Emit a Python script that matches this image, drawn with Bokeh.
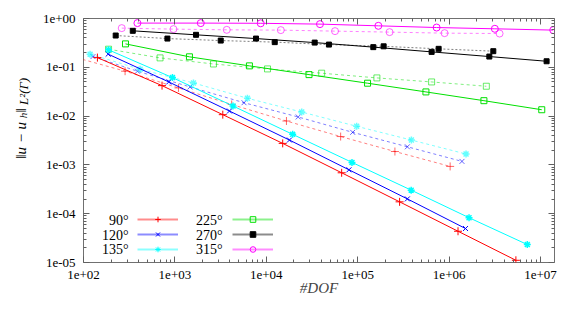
import math
from bokeh.plotting import figure
from bokeh.layouts import row
from bokeh.models import (Range1d, FixedTicker, LogAxis, CustomJSTickFormatter,
                          Label, Legend, LegendItem)
from bokeh.core.properties import value
from bokeh.embed import file_html
from bokeh.resources import INLINE

# ---------------- data ----------------
angles = ["90°", "120°", "135°", "225°", "270°", "315°"]
colors = ["#ff0000", "#0000ff", "#00ffff", "#00e000", "#000000", "#ff00ff"]
markers = ["cross", "x", "asterisk", "square", "square", "circle"]
marker_fill = [False, False, True, False, True, False]

dof_90_solid = [142, 723, 3340, 15100, 66700, 287000, 1250000, 5370000]
err_90_solid = [0.158, 0.0421, 0.0107, 0.00276, 0.000689, 0.000175, 0.0000437, 0.0000111]
dof_90_dash = [73, 285, 1094, 4180, 16600, 65000, 255000, 1025000]
err_90_dash = [0.169, 0.0832, 0.0378, 0.0173, 0.00793, 0.00381, 0.00188, 0.000931]

dof_120_solid = [186, 857, 3950, 17900, 80200, 349000, 1510000]
err_120_solid = [0.186, 0.0501, 0.0127, 0.00323, 0.000793, 0.000201, 0.0000497]
dof_120_dash = [127, 389, 1464, 5700, 22300, 88000, 349000, 1380000]
err_120_dash = [0.166, 0.0832, 0.0396, 0.0188, 0.00959, 0.00465, 0.00235, 0.00118]

dof_135_solid = [188, 940, 4320, 19400, 86500, 384000, 1650000, 7160000]
err_135_solid = [0.228, 0.0615, 0.0161, 0.00423, 0.001125, 0.000304, 0.0000828, 0.0000233]
dof_135_dash = [118, 416, 1595, 6210, 24400, 97300, 386000, 1530000]
err_135_dash = [0.186, 0.0914, 0.0478, 0.0232, 0.0121, 0.00618, 0.00323, 0.00167]

dof_225_solid = [288, 1442, 6530, 29300, 128000, 557000, 2400000, 10300000]
err_225_solid = [0.302, 0.164, 0.107, 0.0708, 0.0472, 0.0313, 0.0207, 0.0135]
dof_225_dash = [188, 688, 2640, 10300, 40300, 162000, 643000, 2550000]
err_225_dash = [0.235, 0.156, 0.117, 0.0927, 0.0757, 0.0606, 0.0501, 0.0409]

dof_270_solid = [346, 1702, 7710, 33800, 148000, 643000, 2750000, 11640000]
err_270_solid = [0.559, 0.463, 0.388, 0.321, 0.259, 0.207, 0.166, 0.133]
dof_270_dash = [225, 828, 3170, 12360, 48400, 192000, 767000, 3040000]
err_270_dash = [0.448, 0.388, 0.353, 0.328, 0.292, 0.269, 0.239, 0.214]

dof_315_solid = [389, 1918, 8680, 38600, 168000, 729000, 3160000, 13760000]
err_315_solid = [0.805, 0.805, 0.797, 0.767, 0.708, 0.653, 0.615, 0.578]
dof_315_dash = [262, 964, 3690, 14400, 56400, 223000, 891000, 3560000]
err_315_dash = [0.635, 0.606, 0.586, 0.578, 0.551, 0.526, 0.501, 0.492]

x_ticks = [1e2, 1e3, 1e4, 1e5, 1e6, 1e7]
y_ticks = [1e-5, 1e-4, 1e-3, 1e-2, 1e-1, 1e0]

solid_sets = [(dof_90_solid, err_90_solid), (dof_120_solid, err_120_solid),
              (dof_135_solid, err_135_solid), (dof_225_solid, err_225_solid),
              (dof_270_solid, err_270_solid), (dof_315_solid, err_315_solid)]
dash_sets = [(dof_90_dash, err_90_dash), (dof_120_dash, err_120_dash),
             (dof_135_dash, err_135_dash), (dof_225_dash, err_225_dash),
             (dof_270_dash, err_270_dash), (dof_315_dash, err_315_dash)]

H = 302
LAB_W = 38

# ---------------- main figure ----------------
XMAX = 1.42e7
p = figure(x_axis_type="log", y_axis_type="log",
           x_range=Range1d(100, XMAX), y_range=Range1d(1e-5, 1),
           frame_width=471, frame_height=244,
           min_border_left=83 - LAB_W, min_border_right=20, min_border_top=18,
           min_border_bottom=40,
           output_backend="svg", toolbar_location=None,
           background_fill_color="white", border_fill_color="white")
p.grid.visible = False
p.outline_line_color = "#707070"
p.outline_line_width = 1

def minor_for(ticks, hi):
    out = []
    for t in ticks:
        for m in range(2, 10):
            v = t * m
            if v <= hi:
                out.append(v)
    return out

fmt_code = """
const e = Math.round(Math.log10(tick));
const s = Math.abs(e).toString().padStart(2, "0");
return "1e" + (e < 0 ? "-" : "+") + s;
"""
blank_code = "return '';"

def style_axis(ax, ticks, minors, labels=True):
    ax.ticker = FixedTicker(ticks=ticks, minor_ticks=minors)
    ax.axis_line_color = None
    ax.major_tick_line_color = "#606060"
    ax.minor_tick_line_color = "#606060"
    ax.major_tick_in = 6
    ax.major_tick_out = 0
    ax.minor_tick_in = 3
    ax.minor_tick_out = 0
    if labels:
        ax.formatter = CustomJSTickFormatter(code=fmt_code)
        ax.major_label_text_font = "Liberation Serif"
        ax.major_label_text_font_size = "13px"
        ax.major_label_text_color = "#000000"
        ax.major_label_standoff = 8
    else:
        ax.formatter = CustomJSTickFormatter(code=blank_code)
        ax.major_label_standoff = 0
        ax.major_label_text_font_size = "1px"

x_minor = minor_for(x_ticks, XMAX)
y_minor = minor_for(y_ticks[:-1], 1.0)

bottom_ax = p.xaxis[0]
left_ax = p.yaxis[0]
style_axis(bottom_ax, x_ticks, x_minor)
style_axis(left_ax, y_ticks, y_minor)

bottom_ax.axis_label = "#DOF"
bottom_ax.axis_label_text_font = "Liberation Serif"
bottom_ax.axis_label_text_font_style = "italic"
bottom_ax.axis_label_text_font_size = "15px"
bottom_ax.axis_label_standoff = -2

top_ax = LogAxis()
right_ax = LogAxis()
style_axis(top_ax, x_ticks, x_minor, labels=False)
style_axis(right_ax, y_ticks, y_minor, labels=False)
p.add_layout(top_ax, "above")
p.add_layout(right_ax, "right")

# ---------------- series ----------------
def add_markers(xs, ys, i, alpha):
    m = markers[i]
    c = colors[i]
    fill = c if marker_fill[i] else None
    size = {"cross": 8, "x": 7, "asterisk": 7, "circle": 7}.get(m, 6)
    lw = 1.5 if m == "asterisk" else 1
    if i == 4:
        size = 5
    p.scatter(xs, ys, marker=m, size=size, line_color=c, line_alpha=alpha,
              fill_color=fill, fill_alpha=alpha, line_width=lw)

for i, (xs, ys) in enumerate(dash_sets):
    dash = "2 2" if i == 4 else "3 3"
    p.line(xs, ys, line_color=colors[i], line_alpha=0.5, line_width=1, line_dash=dash)
    add_markers(xs, ys, i, 1.0 if i == 4 else 0.6)

for i, (xs, ys) in enumerate(solid_sets):
    p.line(xs, ys, line_color=colors[i], line_width=1)
    add_markers(xs, ys, i, 1.0)

# ---------------- legend ----------------
NAN = float("nan")

def make_legend(idxs, loc):
    items = []
    for i in idxs:
        lr = p.line([NAN], [NAN], line_color=colors[i], line_alpha=0.45, line_width=2)
        fill = colors[i] if marker_fill[i] else None
        sr = p.scatter([NAN], [NAN], marker=markers[i], size=5, line_color=colors[i],
                       fill_color=fill, line_width=1)
        items.append(LegendItem(label=value(" "), renderers=[lr, sr]))
    leg = Legend(items=items, location=loc, orientation="vertical",
                 background_fill_alpha=0, border_line_color=None,
                 padding=0, margin=0, spacing=1,
                 glyph_width=41, glyph_height=14, label_height=14,
                 label_width=0, label_standoff=0, label_text_font_size="1px")
    p.add_layout(leg)

make_legend([0, 1, 2], (54, 6))
make_legend([3, 4, 5], (149, 6))

row_y = [42.2, 27.0, 12.8]
for k in range(6):
    col_x = 45 if k < 3 else 139
    p.add_layout(Label(x=col_x, y=row_y[k % 3], x_units="screen", y_units="screen",
                       text=angles[k], text_align="right", text_baseline="middle",
                       text_font="Liberation Serif", text_font_size="14px",
                       text_color="#000000"))

# ---------------- y axis label (narrow companion figure) ----------------
lab = figure(width=LAB_W, height=H, x_range=Range1d(0, 1), y_range=Range1d(0, 1),
             x_axis_location=None, y_axis_location=None,
             min_border_left=0, min_border_right=0, min_border_top=0, min_border_bottom=0,
             output_backend="svg", toolbar_location=None,
             background_fill_color="white", border_fill_color="white")
lab.grid.visible = False
lab.outline_line_color = None

ylab_parts = [("‖u − u", 20.0, 103.7, "15px"),
              ("h", 22.5, 144.3, "11px"),
              ("‖", 20.0, 150.0, "15px"),
              ("L²(Γ)", 22.5, 157.5, "13px")]
for txt, lx, ly, fs in ylab_parts:
    lab.add_layout(Label(x=lx, y=ly, x_units="screen", y_units="screen", text=txt,
                         angle=math.pi / 2, text_align="left", text_baseline="alphabetic",
                         text_font="Liberation Serif", text_font_style="italic",
                         text_font_size=fs, text_color="#000000"))

layout = row(lab, p, spacing=0)
open("out.html", "w").write(file_html(layout, INLINE))
